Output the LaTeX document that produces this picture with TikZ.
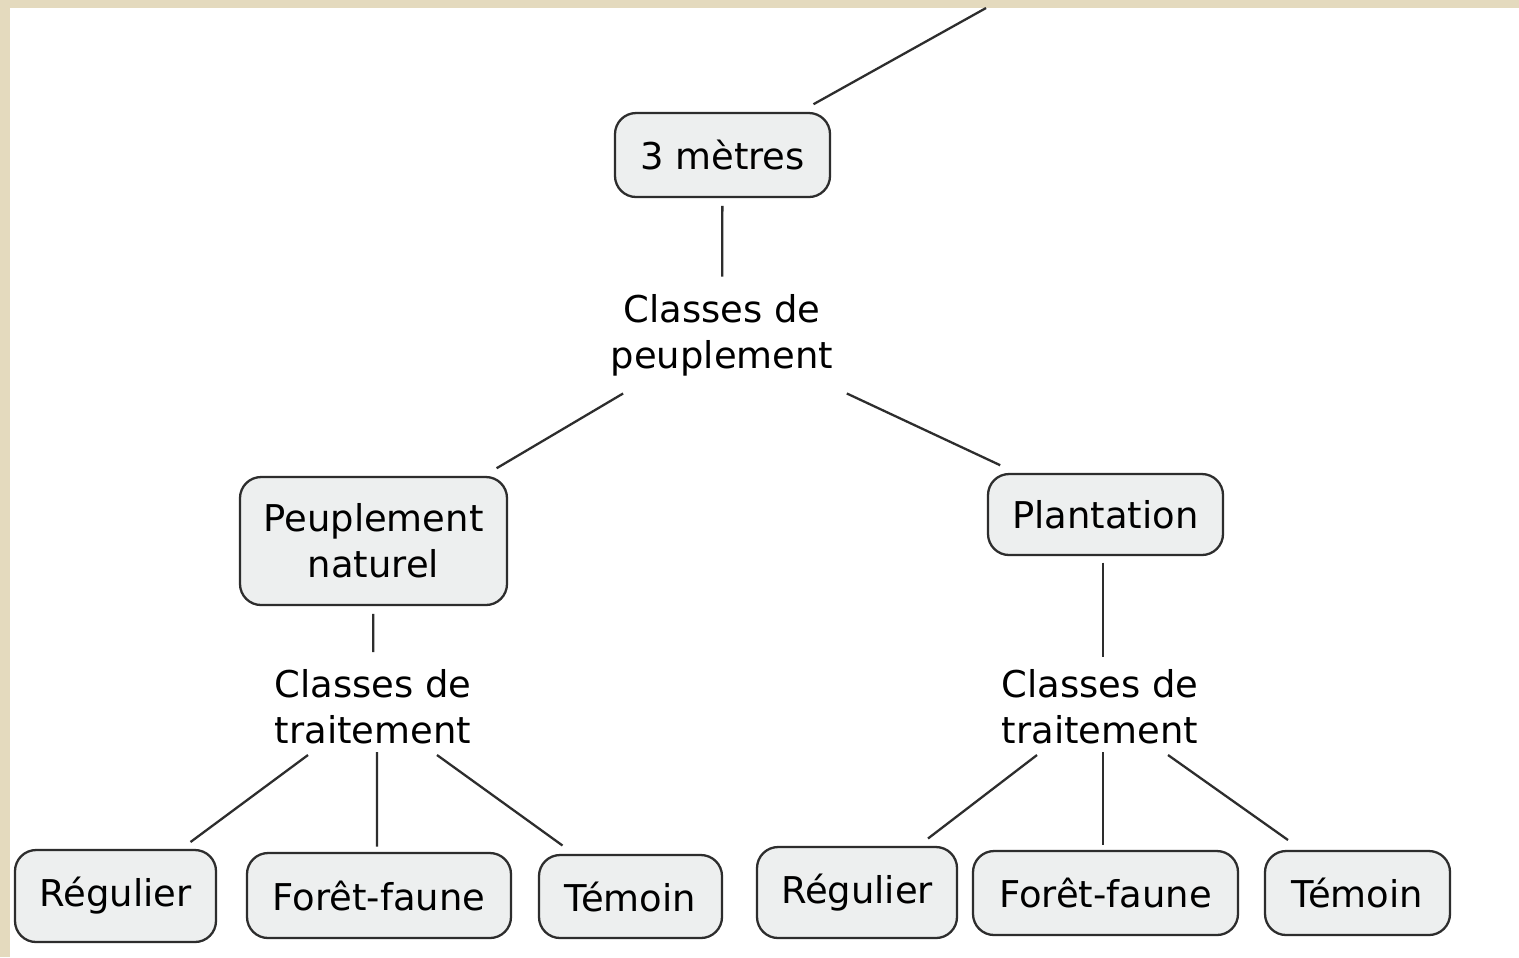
\documentclass[tikz,border=0pt]{standalone}
\usepackage{fontspec}
\setmainfont{DejaVu Sans}
\usetikzlibrary{positioning}

\definecolor{beige}{RGB}{228,218,190}
\definecolor{boxfill}{RGB}{237,239,239}
\definecolor{edge}{RGB}{45,45,45}

\begin{document}
\begin{tikzpicture}[
  x=1cm, y=-1cm,
  every node/.style={font=\fontsize{10.5}{13.1}\selectfont},
  conceptbox/.style={draw=edge, line width=0.65pt, rounded corners=6pt, fill=boxfill, align=center, inner sep=0pt, outer sep=2.5pt},
  linktext/.style={align=center, inner sep=1pt, outer sep=4pt},
  link/.style={edge, line width=0.65pt}
]
% frame
\fill[white] (0,0) rectangle (15.19,9.57);
\fill[beige] (0,0) rectangle (0.10,9.57);
\fill[beige] (0,0) rectangle (15.19,0.08);
\useasboundingbox (0,0) rectangle (15.19,9.57);

\coordinate (Top) at (9.86,0.08);
\node[conceptbox, minimum width=2.15cm, minimum height=0.84cm] (Metres) at (7.225,1.55) {3 mètres};
\node[linktext] (ClPeup) at (7.22,3.35) {Classes de\\peuplement};

\node[conceptbox, minimum width=2.67cm, minimum height=1.28cm] (PeupNat) at (3.735,5.41) {Peuplement\\naturel};
\node[conceptbox, minimum width=2.35cm, minimum height=0.81cm] (Plant) at (11.055,5.145) {Plantation};

\node[linktext] (ClTraitA) at (3.73,7.07) {Classes de\\traitement};
\node[linktext] (ClTraitB) at (11.0,7.07) {Classes de\\traitement};

\node[conceptbox, minimum width=2.01cm, minimum height=0.92cm] (RegA) at (1.155,8.96) {Régulier};
\node[conceptbox, minimum width=2.64cm, minimum height=0.85cm] (FFA) at (3.79,8.955) {Forêt-faune};
\node[conceptbox, minimum width=1.83cm, minimum height=0.83cm] (TemA) at (6.305,8.965) {Témoin};

\node[conceptbox, minimum width=2.00cm, minimum height=0.91cm] (RegB) at (8.57,8.925) {Régulier};
\node[conceptbox, minimum width=2.65cm, minimum height=0.84cm] (FFB) at (11.055,8.93) {Forêt-faune};
\node[conceptbox, minimum width=1.85cm, minimum height=0.84cm] (TemB) at (13.575,8.93) {Témoin};

\draw[link] (Metres) -- (Top);
\draw[link] (Metres) -- (ClPeup);
\draw[link] (ClPeup) -- (PeupNat);
\draw[link] (ClPeup) -- (Plant);

% naturel
\draw[link] (PeupNat) -- (ClTraitA);
\draw[link] ([shift={(-0.65,0.48)}]ClTraitA.center) -- ([shift={(0.75,-0.54)}]RegA.center);
\draw[link] ([shift={(0.04,0.45)}]ClTraitA.center) -- ([shift={(-0.02,-0.49)}]FFA.center);
\draw[link] ([shift={(0.64,0.48)}]ClTraitA.center) -- ([shift={(-0.68,-0.51)}]TemA.center);

% plantation
\draw[link] ([shift={(-0.025,0.48)}]Plant.center) -- ([shift={(0.03,-0.50)}]ClTraitB.center);
\draw[link] ([shift={(-0.63,0.48)}]ClTraitB.center) -- ([shift={(0.71,-0.54)}]RegB.center);
\draw[link] ([shift={(0.03,0.45)}]ClTraitB.center) -- ([shift={(-0.025,-0.48)}]FFB.center);
\draw[link] ([shift={(0.68,0.48)}]ClTraitB.center) -- ([shift={(-0.695,-0.53)}]TemB.center);
\end{tikzpicture}
\end{document}
